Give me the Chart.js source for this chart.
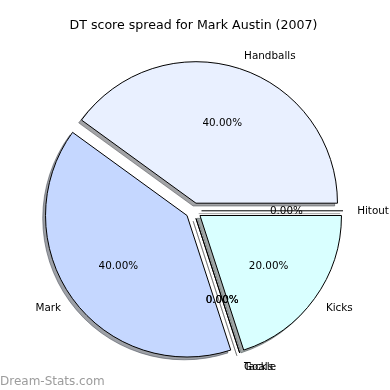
<!DOCTYPE html>
<html>
<head>
<meta charset="utf-8">
<script src="https://cdn.jsdelivr.net/npm/chart.js@4"></script>
<style>
  html, body { margin: 0; padding: 0; background: #fff; }
  #wrap { width: 390px; height: 390px; position: relative; }
</style>
</head>
<body>
<div id="wrap"><canvas id="pie"></canvas></div>
<script>
// DT points by stat type, listed clockwise from 3 o'clock
const CATEGORIES = ['Kicks', 'Goals', 'Tackle', 'Mark', 'Handballs', 'Hitout'];
const POINTS = [3, 0, 0, 6, 6, 0];
const SLICE_COLORS = ['#d9ffff', '#ffffff', '#ffffff', '#c5d7ff', '#e9f0ff', '#ffffff'];

const EXPLODE = 8; // px each wedge is pushed out
const SHADOW_DX = -2.8, SHADOW_DY = 2.8;
const TOTAL = POINTS.reduce((s, v) => s + v, 0);

function shadowOf(hex) {
  const n = parseInt(hex.slice(1), 16);
  const r = (n >> 16) & 255, g = (n >> 8) & 255, b = n & 255;
  return `rgba(${Math.round(r * 0.3)},${Math.round(g * 0.3)},${Math.round(b * 0.3)},0.5)`;
}

function shift(arc) {
  const mid = (arc.startAngle + arc.endAngle) / 2;
  return [Math.cos(mid) * EXPLODE, Math.sin(mid) * EXPLODE];
}

function drawWedge(ctx, arc, dx, dy, override) {
  ctx.save();
  ctx.translate(dx, dy);
  if (arc.circumference === 0) {
    // an empty wedge still shows up as its edge line
    ctx.beginPath();
    ctx.moveTo(arc.x, arc.y);
    ctx.lineTo(arc.x + Math.cos(arc.startAngle) * arc.outerRadius,
               arc.y + Math.sin(arc.startAngle) * arc.outerRadius);
    ctx.lineWidth = 1;
    ctx.strokeStyle = override ? override.borderColor : arc.options.borderColor;
    ctx.stroke();
  } else {
    const saved = arc.options;
    if (override) arc.options = Object.assign({}, saved, override);
    arc.draw(ctx);
    arc.options = saved;
  }
  ctx.restore();
}

const mplPie = {
  id: 'mplPie',
  beforeDatasetDraw(chart, args) {
    const ctx = chart.ctx;
    const arcs = args.meta.data;
    arcs.forEach((arc, i) => {
      const [dx, dy] = shift(arc);
      const c = shadowOf(SLICE_COLORS[i]);
      drawWedge(ctx, arc, dx + SHADOW_DX, dy + SHADOW_DY, { backgroundColor: c, borderColor: c });
    });
    arcs.forEach(arc => {
      const [dx, dy] = shift(arc);
      drawWedge(ctx, arc, dx, dy, null);
    });
    return false;
  },
  afterDatasetsDraw(chart) {
    const ctx = chart.ctx;
    const arcs = chart.getDatasetMeta(0).data;
    ctx.save();
    ctx.fillStyle = '#000';
    ctx.font = '10.4px "DejaVu Sans"';
    ctx.textBaseline = 'middle';
    arcs.forEach((arc, i) => {
      const mid = (arc.startAngle + arc.endAngle) / 2;
      const [dx, dy] = shift(arc);
      const cx = arc.x + dx, cy = arc.y + dy + 0.8;
      const R = arc.outerRadius;
      const ux = Math.cos(mid), uy = Math.sin(mid);
      ctx.textAlign = ux > 0 ? 'left' : 'right';
      ctx.fillText(CATEGORIES[i], cx + ux * R * 1.1, cy + uy * R * 1.1);
      ctx.textAlign = 'center';
      ctx.fillText((POINTS[i] / TOTAL * 100).toFixed(2) + '%', cx + ux * R * 0.6, cy + uy * R * 0.6);
    });
    ctx.restore();
  },
  afterDraw(chart) {
    const ctx = chart.ctx;
    ctx.save();
    ctx.font = '12px "DejaVu Sans"';
    ctx.fillStyle = '#9c9c9c';
    ctx.textAlign = 'left';
    ctx.textBaseline = 'alphabetic';
    ctx.fillText('Dream-Stats.com', 0, 385);
    ctx.restore();
  }
};

new Chart(document.getElementById('pie'), {
  type: 'pie',
  data: {
    labels: CATEGORIES,
    datasets: [{
      data: POINTS,
      backgroundColor: SLICE_COLORS,
      borderColor: '#000',
      borderWidth: 1,
      borderJoinStyle: 'miter'
    }]
  },
  options: {
    responsive: true,
    maintainAspectRatio: false,
    animation: false,
    rotation: 90,
    radius: 141.5,
    layout: { padding: { left: 0, right: 3, top: 0, bottom: 2 } },
    plugins: {
      legend: { display: false },
      tooltip: { enabled: false },
      title: {
        display: true,
        text: 'DT score spread for Mark Austin (2007)',
        color: '#000',
        font: { family: 'DejaVu Sans', size: 12.6, weight: 'normal' },
        padding: { top: 18.5, bottom: 0 }
      }
    }
  },
  plugins: [mplPie]
});
</script>
</body>
</html>
